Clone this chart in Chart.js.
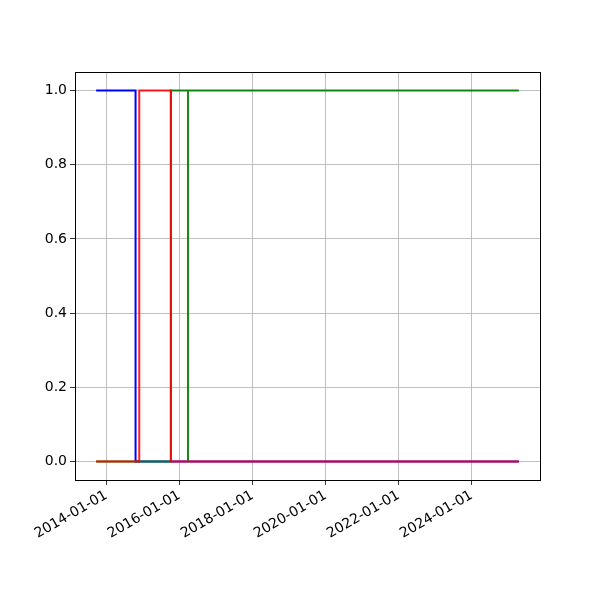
<!DOCTYPE html>
<html>
<head>
<meta charset="utf-8">
<script src="https://cdn.jsdelivr.net/npm/chart.js@4"></script>
<style>
  html, body { margin: 0; padding: 0; background: #fff; }
  #wrap { width: 600px; height: 600px; }
</style>
</head>
<body>
<div id="wrap"><canvas id="grafico" width="600" height="600"></canvas></div>
<script>
// dados (degraus: o valor vale a partir da data)
const blueDates = ['2013-09-21', '2014-10-20', '2025-04-16'];
const blueValues = [1, 0, 0];

const redDates = ['2013-09-21', '2014-11-26', '2015-10-08', '2025-04-16'];
const redValues = [0, 1, 0, 0];

const greenDates = ['2013-09-21', '2015-10-08', '2016-03-27', '2016-03-27', '2025-04-16'];
const greenValues = [0, 1, 0, 1, 1];

const xTickLabels = ['2014-01-01', '2016-01-01', '2018-01-01', '2020-01-01', '2022-01-01', '2024-01-01'];
const yTicks = [0, 0.2, 0.4, 0.6, 0.8, 1.0];

function toMs(s) {
  const p = s.split('-').map(Number);
  return Date.UTC(p[0], p[1] - 1, p[2]);
}

function pontos(datas, valores) {
  return datas.map((d, i) => ({ x: toMs(d), y: valores[i] }));
}

const todas = [...blueDates, ...redDates, ...greenDates].map(toMs);
const xIni = Math.min(...todas);
const xFim = Math.max(...todas);
const margem = (xFim - xIni) * 0.05;

const fonte = { family: 'DejaVu Sans', size: 14 };

// moldura completa do eixo, como no matplotlib
const moldura = {
  id: 'moldura',
  afterDraw(chart) {
    const a = chart.chartArea;
    const ctx = chart.ctx;
    ctx.save();
    ctx.strokeStyle = '#000';
    ctx.lineWidth = 1;
    ctx.strokeRect(Math.round(a.left) + 0.5, Math.round(a.top) + 0.5,
      Math.round(a.right - a.left), Math.round(a.bottom - a.top));
    ctx.restore();
  }
};

function serie(dados, cor) {
  return {
    data: dados,
    borderColor: cor,
    borderWidth: 2,
    pointRadius: 0,
    stepped: 'before',
    fill: false,
    tension: 0
  };
}

new Chart(document.getElementById('grafico'), {
  type: 'line',
  data: {
    datasets: [
      serie(pontos(redDates, redValues), 'rgba(255,0,0,0.88)'),
      serie(pontos(greenDates, greenValues), 'rgba(0,128,0,0.92)'),
      serie(pontos(blueDates, blueValues), 'rgba(0,0,255,1)')
    ]
  },
  options: {
    responsive: false,
    animation: false,
    parsing: false,
    layout: { padding: { left: 0, right: 60, top: 72, bottom: 0 } },
    plugins: { legend: { display: false }, tooltip: { enabled: false } },
    scales: {
      x: {
        type: 'linear',
        min: xIni - margem,
        max: xFim + margem,
        afterBuildTicks(scale) {
          scale.ticks = xTickLabels.map(s => ({ value: toMs(s) }));
        },
        afterFit(scale) { scale.height = 120; },
        ticks: {
          autoSkip: false,
          minRotation: 30,
          maxRotation: 30,
          color: '#000',
          font: fonte,
          padding: 2,
          callback: function (v) {
            const i = xTickLabels.findIndex(s => toMs(s) === v);
            return i >= 0 ? xTickLabels[i] : '';
          }
        },
        grid: { color: '#b0b0b0', lineWidth: 0.8, tickColor: '#000', tickLength: 5 },
        border: { display: false }
      },
      y: {
        min: -0.05,
        max: 1.05,
        afterBuildTicks(scale) {
          scale.ticks = yTicks.map(v => ({ value: v }));
        },
        afterFit(scale) { scale.width = 75; },
        ticks: {
          color: '#000',
          font: fonte,
          padding: 3,
          callback: v => Number(v).toFixed(1)
        },
        grid: { color: '#b0b0b0', lineWidth: 0.8, tickColor: '#000', tickLength: 5 },
        border: { display: false }
      }
    }
  },
  plugins: [moldura]
});
</script>
</body>
</html>
